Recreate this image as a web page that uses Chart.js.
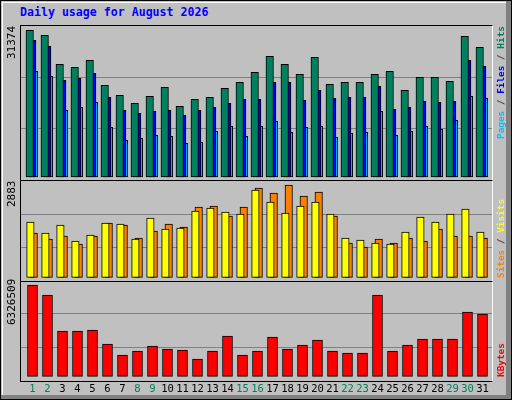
<!DOCTYPE html>
<html><head><meta charset="utf-8">
<script src="https://cdn.jsdelivr.net/npm/chart.js@4"></script>
<style>
html,body{margin:0;padding:0;background:#fff}
#frame{position:absolute;left:0;top:0;width:510px;height:398px;border:1px solid #000;background:#c0c0c0;overflow:hidden}
#shadeR{position:absolute;left:505px;top:0;width:5px;height:398px;background:#808080}
#shadeB{position:absolute;left:0;top:394px;width:510px;height:4px;background:#808080}
#hl{position:absolute;left:1px;top:1px;width:503px;height:392px;border-left:1px solid #fff;border-top:1px solid #fff}
canvas{position:absolute}
.pb{position:absolute;border:1px solid #000;border-right-color:#fff;box-sizing:border-box;pointer-events:none}
.t{position:absolute;font-family:"DejaVu Sans Mono",monospace;white-space:nowrap}
.rot{transform-origin:0 0;transform:rotate(-90deg)}
</style></head><body>
<div id="frame"><div id="shadeR"></div><div id="shadeB"></div><div id="hl"></div>
<div class="t" style="left:19px;top:4px;font-size:11.6px;font-weight:bold;color:#0000ff">Daily usage for August 2026</div>
<canvas id="c1" width="471" height="154" style="left:20px;top:25px"></canvas>
<canvas id="c2" width="471" height="99" style="left:20px;top:180px"></canvas>
<canvas id="c3" width="471" height="117" style="left:20px;top:280px"></canvas>
<div class="pb" style="left:19px;top:24px;width:473px;height:156px"></div>
<div class="pb" style="left:19px;top:179px;width:473px;height:102px"></div>
<div class="pb" style="left:19px;top:280px;width:473px;height:101px"></div>
<div class="t rot" style="left:4px;top:58px;font-size:11px;color:#000">31374</div>
<div class="t rot" style="left:4px;top:206px;font-size:11px;color:#000">2883</div>
<div class="t rot" style="left:4px;top:324px;font-size:11px;color:#000">6326509</div>
<div class="t rot" style="left:494px;top:138px;font-size:9.4px;font-weight:bold"><span style="color:#00c0ff">Pages</span><span style="color:#404040"> / </span><span style="color:#0000ff">Files</span><span style="color:#404040"> / </span><span style="color:#00805c">Hits</span></div>
<div class="t rot" style="left:494px;top:277px;font-size:9.4px;font-weight:bold"><span style="color:#ff8000">Sites</span><span style="color:#404040"> / </span><span style="color:#ffff00">Visits</span></div>
<div class="t rot" style="left:494px;top:376px;font-size:9.4px;font-weight:bold"><span style="color:#ff0000">KBytes</span></div>
</div>
<script>
const days=[1,2,3,4,5,6,7,8,9,10,11,12,13,14,15,16,17,18,19,20,21,22,23,24,25,26,27,28,29,30,31];
const weekend=[1,2,8,9,15,16,22,23,29,30];
const hits=[31372,30303,24099,23458,24955,19608,17469,15757,17255,19180,15116,16613,17041,18966,20249,22388,25811,24099,21960,25597,19821,20249,20249,21960,22602,18538,21319,21319,20463,30089,27736];
const files=[29233,27950,20677,21105,22174,17041,14260,13618,14046,14260,13191,14260,14902,15757,16613,16613,20249,20249,16399,18538,16827,17041,17041,19394,14474,14902,16185,15971,16185,24955,23672];
const pages=[22602,21533,14260,14902,15971,10624,7843,8271,8913,8699,7201,7415,9768,10838,8699,10838,11907,9554,10624,10838,8485,9340,9554,14046,8913,9768,10838,10196,12121,17255,16827];
const visits=[1728,1385,1634,1135,1322,1697,1666,1197,1853,1509,1541,2072,2165,2040,1978,2727,2353,2009,2228,2353,1978,1228,1166,1072,1041,1416,1884,1728,1978,2134,1416];
const sites=[1385,1197,1291,1041,1291,1697,1634,1228,1447,1666,1572,2197,2228,1915,2197,2790,2634,2883,2540,2665,1915,1072,947,1197,1072,1228,1135,1509,1291,1291,1228];
const kbytes=[6326509,5633960,3140240,3140240,3209510,2239730,1477760,1754840,2101190,1893380,1824110,1200680,1754840,2793890,1477760,1754840,2724620,1893380,2170460,2516810,1754840,1616300,1616300,5633960,1754840,2170460,2586080,2586080,2586080,4456370,4317830];

Chart.defaults.animation=false;
Chart.defaults.devicePixelRatio=1;
const pts=(arr,off)=>arr.map((v,i)=>({x:days[i]+off,y:v}));
const ds=(arr,off,color,w,order)=>({data:pts(arr,off),backgroundColor:color,borderColor:'#000',borderWidth:1,borderSkipped:false,barThickness:w,order:order,grouped:false});
function make(id,datasets,ymin,ymax,bottomPad,labels){
  const plugins=[];
  if(labels) plugins.push({id:'xl',afterDraw(ch){const c=ch.ctx,xs=ch.scales.x;c.save();c.font='10.5px "DejaVu Sans Mono"';c.textAlign='center';c.textBaseline='middle';
    days.forEach(d=>{c.fillStyle=weekend.includes(d)?'#00805c':'#000';c.fillText(String(d),xs.getPixelForValue(d+0.02),ch.chartArea.bottom+9);});c.restore();}});
  return new Chart(document.getElementById(id),{type:'bar',data:{datasets},plugins,
    options:{responsive:false,layout:{padding:{left:0,right:0,top:0,bottom:bottomPad}},
      plugins:{legend:{display:false},tooltip:{enabled:false}},
      scales:{x:{type:'linear',min:0.253,max:31.653,display:false,offset:false},
        y:{min:ymin,max:ymax,display:true,border:{display:false},ticks:{display:false},
          grid:{color:'#808080',lineWidth:1,drawTicks:false},
          afterFit(s){s.width=0;},
          afterBuildTicks(s){const r=ymax-ymin;s.ticks=[{value:ymin+r/3},{value:ymin+2*r/3}];}}}}});
}
make('c1',[ds(hits,-0.167,'#00805c',7.5,0),ds(files,0,'#0000ff',7.5,1),ds(pages,0.12,'#00c0ff',7.5,2)],-642,32299,0,false);
make('c2',[ds(visits,-0.12,'#ffff00',7.5,0),ds(sites,0.1,'#ff8000',7.5,1)],-83,3008,0,false);
make('c3',[ds(kbytes,0.02,'#ff0000',10,0)],-254000,6603740,18,true);
</script></body></html>
